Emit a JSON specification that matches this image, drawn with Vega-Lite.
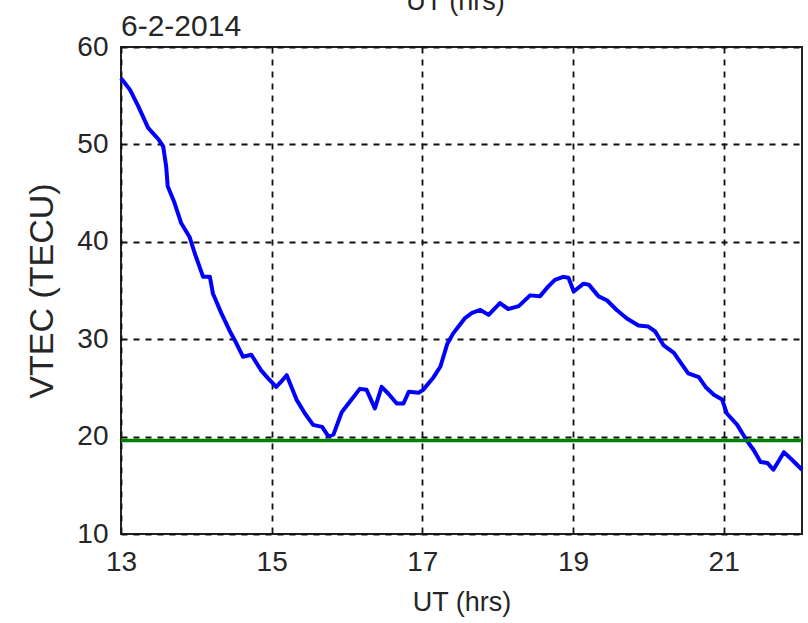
{
  "$schema": "https://vega.github.io/schema/vega-lite/v6.json",
  "width": 681,
  "height": 487,
  "autosize": {"type": "none"},
  "padding": {"left": 121, "top": 47, "right": 6, "bottom": 89},
  "background": "white",
  "title": {
    "text": "UT (hrs)",
    "anchor": "middle",
    "frame": "group",
    "fontSize": 27,
    "fontWeight": "normal",
    "font": "Liberation Sans",
    "color": "#262626",
    "baseline": "alphabetic",
    "offset": -25,
    "dx": -6
  },
  "config": {
    "view": {"stroke": "#222222", "strokeWidth": 2},
    "font": "Liberation Sans"
  },
  "datasets": {
    "vtec": [
      {"t": 13.00, "v": 56.8}, {"t": 13.06, "v": 56.2}, {"t": 13.12, "v": 55.6}, {"t": 13.23, "v": 53.9},
      {"t": 13.36, "v": 51.7}, {"t": 13.50, "v": 50.5}, {"t": 13.56, "v": 49.8}, {"t": 13.60, "v": 47.7},
      {"t": 13.62, "v": 45.7}, {"t": 13.71, "v": 44.0}, {"t": 13.80, "v": 41.9}, {"t": 13.91, "v": 40.5},
      {"t": 13.98, "v": 38.8}, {"t": 14.09, "v": 36.4}, {"t": 14.18, "v": 36.4}, {"t": 14.22, "v": 34.7},
      {"t": 14.33, "v": 32.7}, {"t": 14.44, "v": 30.9}, {"t": 14.51, "v": 29.9}, {"t": 14.62, "v": 28.2},
      {"t": 14.73, "v": 28.4}, {"t": 14.86, "v": 26.8}, {"t": 14.95, "v": 26.0}, {"t": 15.06, "v": 25.1},
      {"t": 15.12, "v": 25.6}, {"t": 15.20, "v": 26.3}, {"t": 15.33, "v": 23.8}, {"t": 15.44, "v": 22.4},
      {"t": 15.55, "v": 21.2}, {"t": 15.67, "v": 21.0}, {"t": 15.75, "v": 20.05}, {"t": 15.82, "v": 20.2},
      {"t": 15.93, "v": 22.5}, {"t": 16.04, "v": 23.6}, {"t": 16.17, "v": 24.9}, {"t": 16.26, "v": 24.8},
      {"t": 16.37, "v": 22.9}, {"t": 16.46, "v": 25.1}, {"t": 16.55, "v": 24.4}, {"t": 16.66, "v": 23.4},
      {"t": 16.75, "v": 23.4}, {"t": 16.82, "v": 24.6}, {"t": 16.95, "v": 24.5}, {"t": 17.01, "v": 24.8},
      {"t": 17.15, "v": 26.1}, {"t": 17.24, "v": 27.2}, {"t": 17.33, "v": 29.5}, {"t": 17.41, "v": 30.6},
      {"t": 17.48, "v": 31.3}, {"t": 17.57, "v": 32.2}, {"t": 17.66, "v": 32.7}, {"t": 17.77, "v": 33.0},
      {"t": 17.88, "v": 32.5}, {"t": 18.03, "v": 33.7}, {"t": 18.14, "v": 33.1}, {"t": 18.28, "v": 33.4},
      {"t": 18.43, "v": 34.5}, {"t": 18.56, "v": 34.4}, {"t": 18.67, "v": 35.4}, {"t": 18.76, "v": 36.1},
      {"t": 18.87, "v": 36.4}, {"t": 18.94, "v": 36.3}, {"t": 19.01, "v": 34.9}, {"t": 19.14, "v": 35.7},
      {"t": 19.21, "v": 35.6}, {"t": 19.34, "v": 34.4}, {"t": 19.45, "v": 34.0}, {"t": 19.58, "v": 33.0},
      {"t": 19.72, "v": 32.1}, {"t": 19.87, "v": 31.4}, {"t": 20.00, "v": 31.3}, {"t": 20.09, "v": 30.8},
      {"t": 20.20, "v": 29.4}, {"t": 20.34, "v": 28.6}, {"t": 20.42, "v": 27.7}, {"t": 20.53, "v": 26.5},
      {"t": 20.67, "v": 26.1}, {"t": 20.76, "v": 25.1}, {"t": 20.87, "v": 24.3}, {"t": 20.98, "v": 23.8},
      {"t": 21.04, "v": 22.4}, {"t": 21.18, "v": 21.2}, {"t": 21.29, "v": 19.8}, {"t": 21.40, "v": 18.6},
      {"t": 21.49, "v": 17.4}, {"t": 21.58, "v": 17.3}, {"t": 21.66, "v": 16.6}, {"t": 21.80, "v": 18.4},
      {"t": 21.91, "v": 17.6}, {"t": 22.04, "v": 16.6}
    ],
    "threshold": [{"v": 19.6}],
    "date": [{"t": 13, "v": 60, "label": "6-2-2014"}]
  },
  "layer": [
    {
      "data": {"name": "vtec"},
      "mark": {"type": "line", "color": "#0000ff", "strokeWidth": 4, "strokeJoin": "round"},
      "encoding": {
        "x": {
          "field": "t", "type": "quantitative",
          "scale": {"domain": [13, 22.04], "nice": false, "zero": false},
          "axis": {
            "values": [13, 15, 17, 19, 21],
            "format": "d",
            "labelFlush": false,
            "title": "UT (hrs)",
            "grid": true, "gridColor": "#111111", "gridDash": [6, 6], "gridWidth": 1.8, "gridOpacity": 1,
            "ticks": false, "domain": false,
            "labelFontSize": 28, "labelColor": "#262626", "labelPadding": 14, "labelFont": "Liberation Sans",
            "titleFontSize": 27, "titleFontWeight": "normal", "titleColor": "#262626", "titlePadding": 13, "titleFont": "Liberation Sans"
          }
        },
        "y": {
          "field": "v", "type": "quantitative",
          "scale": {"domain": [10, 60], "nice": false, "zero": false},
          "axis": {
            "values": [10, 20, 30, 40, 50, 60],
            "labelFlush": false,
            "title": "VTEC (TECU)",
            "grid": true, "gridColor": "#111111", "gridDash": [6, 6], "gridWidth": 1.8, "gridOpacity": 1,
            "ticks": false, "domain": false,
            "labelFontSize": 28, "labelColor": "#262626", "labelPadding": 13, "labelFont": "Liberation Sans",
            "titleFontSize": 34, "titleFontWeight": "normal", "titleColor": "#262626", "titlePadding": 17, "titleFont": "Liberation Sans"
          }
        }
      }
    },
    {
      "data": {"name": "threshold"},
      "mark": {"type": "rule", "color": "#008000", "strokeWidth": 3.5},
      "encoding": {"y": {"field": "v", "type": "quantitative"}}
    },
    {
      "data": {"name": "date"},
      "mark": {"type": "text", "align": "left", "baseline": "alphabetic", "dy": -11, "fontSize": 30, "color": "#262626", "font": "Liberation Sans"},
      "encoding": {
        "x": {"field": "t", "type": "quantitative"},
        "y": {"field": "v", "type": "quantitative"},
        "text": {"field": "label"}
      }
    }
  ]
}
